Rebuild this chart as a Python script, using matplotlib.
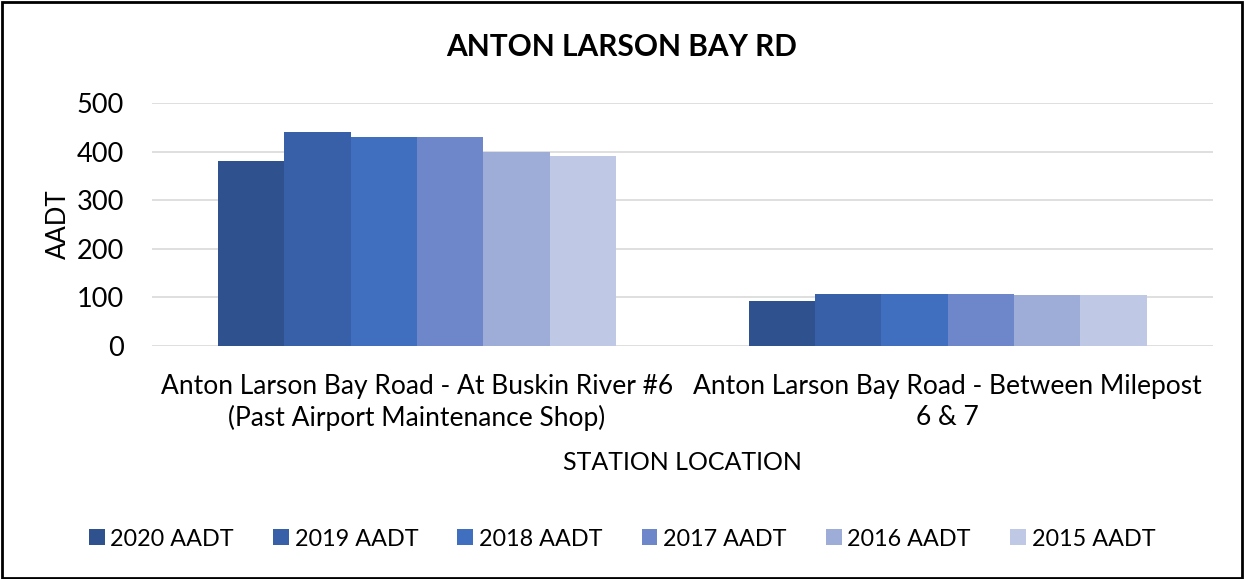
import matplotlib.pyplot as plt
import numpy as np

plt.rcParams['font.family'] = ['Lato', 'DejaVu Sans']

stations = ['Anton Larson Bay Road - At Buskin River #6\n(Past Airport Maintenance Shop)',
            'Anton Larson Bay Road - Between Milepost\n6 & 7']
years = ['2020 AADT', '2019 AADT', '2018 AADT', '2017 AADT', '2016 AADT', '2015 AADT']
aadt = [
    [380, 92],
    [440, 107],
    [430, 107],
    [430, 107],
    [400, 104],
    [390, 104],
]
colors = ['#2F528F', '#3760A8', '#3F6FBE', '#6D87CA', '#9DADD8', '#BFC9E5']

fig = plt.figure(figsize=(12.44, 5.79), dpi=100)
ax = fig.add_axes([0.122, 0.4024, 0.853, 0.4198])

x = np.arange(len(stations))
w = 0.125
for i, (lab, vals) in enumerate(zip(years, aadt)):
    ax.bar(x + (i - 2.5) * w, vals, w, color=colors[i], label=lab, zorder=3)

ax.set_xlim(-0.5, 1.5)
ax.set_ylim(0, 500)
ax.set_yticks(range(0, 501, 100))
ax.yaxis.grid(True, color='#D9D9D9', linewidth=1.2, zorder=0)
for s in ax.spines.values():
    s.set_visible(False)
ax.tick_params(axis='y', length=0, labelsize=19.5, pad=20)
ax.set_xticks(x)
ax.set_xticklabels(stations, fontsize=19, linespacing=1.3)
ax.tick_params(axis='x', length=0, pad=20)
ax.set_ylabel('AADT', fontsize=18.5, labelpad=4)
ax.set_xlabel('STATION LOCATION', fontsize=18, labelpad=14)

fig.text(0.5, 0.919, 'ANTON LARSON BAY RD', ha='center', va='center',
         fontsize=21.5, fontweight='bold')

fig.legend(loc='center', bbox_to_anchor=(0.5, 0.069), ncol=6, frameon=False,
           fontsize=16.8, handlelength=0.68, handleheight=0.68, columnspacing=1.67,
           handletextpad=0.25)

fig.patches.append(plt.Rectangle((0.002, 0.002), 0.996, 0.994, transform=fig.transFigure,
                                 fill=False, edgecolor='black', linewidth=2))

fig.savefig('out.png', dpi=100)
